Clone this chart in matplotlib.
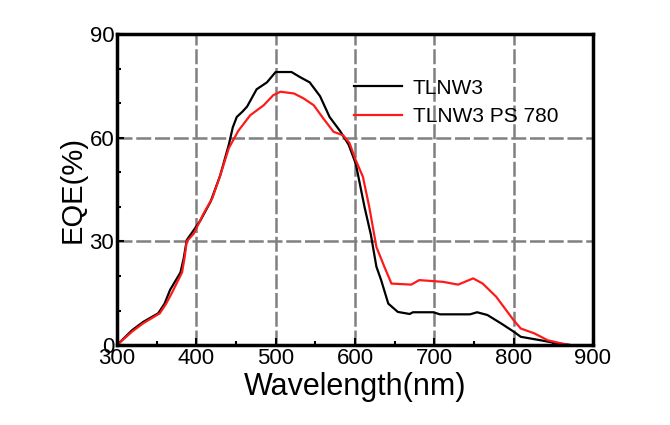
import matplotlib
matplotlib.use("Agg")
import matplotlib.pyplot as plt
from matplotlib.ticker import MultipleLocator

plt.rcParams['font.family'] = ['Liberation Sans', 'DejaVu Sans']

# TLNW3 (black)
wl_a = [300, 319, 333, 352, 360, 367, 380, 384, 388, 396, 405, 418, 430, 441, 446, 451, 458, 464, 476, 489,
        500, 520, 531, 543, 556, 568, 581, 592, 601, 612, 620, 627, 633, 642, 654,
        669, 673, 699, 707, 745, 754, 767, 784, 800, 809, 834, 855, 872, 900]
eqe_a = [0, 4.3, 6.7, 9.2, 12, 16, 21, 25, 30.4, 33, 36, 41.5, 49, 58, 63, 66, 67.5, 69, 74, 76,
         79, 79, 77.5, 76, 72, 66, 62, 58, 52.5, 40, 32, 22.7, 18.8, 12, 9.6,
         9.0, 9.5, 9.5, 8.9, 8.9, 9.5, 8.7, 6.3, 3.9, 2.4, 1.4, 0.5, 0, 0]

# TLNW3 PS 780 (red)
wl_b = [300, 319, 333, 354, 362, 369, 382, 385, 388, 397, 409, 420, 430, 441, 453, 468, 485,
        497, 506, 523, 535, 548, 560, 573, 585, 593, 601, 610, 618, 627, 637, 646,
        671, 681, 711, 730, 749, 761, 778, 800, 809, 826, 843, 860, 872, 900]
eqe_b = [0, 3.9, 6.3, 9.2, 12, 15, 21, 25, 30, 32.3, 38, 42.4, 49, 57, 62, 66.5, 69.4,
         72.3, 73.3, 72.8, 71.4, 69.4, 65.6, 61.7, 60.7, 58.5, 53.5, 48.7, 40, 28.4, 22.7, 17.8,
         17.5, 18.8, 18.3, 17.5, 19.3, 17.8, 14, 7.2, 4.8, 3.4, 1.4, 0.5, 0, 0]

labels = ['TLNW3', 'TLNW3 PS 780']

fig = plt.figure(figsize=(6.7, 4.25), dpi=100)
ax = fig.add_axes([0.1746, 0.188, 0.7104, 0.732])

ax.plot(wl_a, eqe_a, color='black', lw=1.6, label=labels[0])
ax.plot(wl_b, eqe_b, color='#ff1a1a', lw=1.6, label=labels[1])

ax.set_xlim(300, 900)
ax.set_ylim(0, 90)
ax.xaxis.set_major_locator(MultipleLocator(100))
ax.xaxis.set_minor_locator(MultipleLocator(50))
ax.yaxis.set_major_locator(MultipleLocator(30))
ax.yaxis.set_minor_locator(MultipleLocator(10))
ax.tick_params(which='both', direction='in', width=1.5, labelsize=16)
ax.tick_params(which='major', length=5, pad=2)
ax.tick_params(which='minor', length=3)
ax.grid(True, which='major', color='#808080', ls=(0, (6, 1.5)), lw=1.8)
for s in ax.spines.values():
    s.set_linewidth(2.5)

ax.set_xlabel('Wavelength(nm)', fontsize=22, labelpad=2)
ax.set_ylabel('EQE(%)', fontsize=21, labelpad=2)

ax.legend(loc='upper left', bbox_to_anchor=(0.477, 0.89), frameon=False,
          fontsize=15, handlelength=2.3, handletextpad=0.5, labelspacing=0.45,
          borderpad=0)

fig.savefig('out.png', dpi=100)
